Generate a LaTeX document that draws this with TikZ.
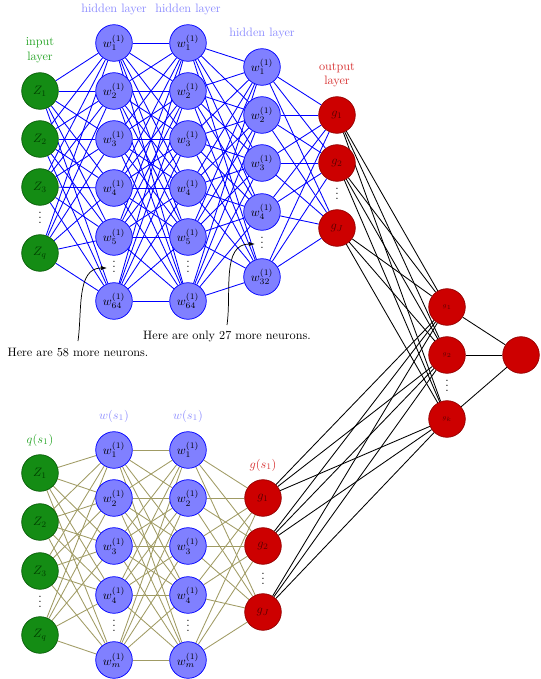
\documentclass[tikz,border=0pt]{standalone}
\usetikzlibrary{arrows.meta}
\pgfdeclarelayer{background}
\pgfsetlayers{background,main}
\definecolor{nodegreen}{RGB}{20,140,20}
\definecolor{nodegreenline}{RGB}{10,95,10}
\definecolor{nodeblue}{RGB}{128,128,255}
\definecolor{nodered}{RGB}{205,0,0}
\definecolor{noderedline}{RGB}{150,0,0}
\definecolor{labgreen}{RGB}{40,165,40}
\definecolor{labblue}{RGB}{140,140,255}
\definecolor{labred}{RGB}{215,50,50}
\definecolor{olivelink}{RGB}{160,155,100}
\newcommand\mydots{\vbox{\baselineskip4pt\lineskiplimit0pt\hbox{.}\hbox{.}\hbox{.}}}
\begin{document}
\begin{tikzpicture}[x=0.82pt,y=-0.82pt,
  neuron/.style={circle,minimum size=30pt,inner sep=0pt,line width=0.6pt},
  inp/.style={neuron,fill=nodegreen,draw=nodegreenline,text=green!25!black},
  hid/.style={neuron,fill=nodeblue,draw=blue},
  outn/.style={neuron,fill=nodered,draw=noderedline,text=red!35!black},
  blink/.style={blue,line width=0.7pt},
  olink/.style={olivelink,line width=0.7pt},
  klink/.style={black,line width=0.7pt},
  vd/.style={inner sep=0pt},
  ann/.style={black,line width=0.6pt,-{Latex[length=5pt,width=3.5pt]}}]
\useasboundingbox (0,0) rectangle (540,679);

% ---------- top network ----------
\foreach \y/\i/\t in {91/1/1,139/2/2,187/3/3,253/4/q}
  \node[inp] (I\i) at (40,\y) {$Z_{\t}$};
\node[vd] (Idots) at (40,218) {\mydots};
\foreach \y/\i/\t in {43/1/1,91/2/2,139/3/3,188/4/4,237/5/5,301/6/64}{
  \node[hid] (A\i) at (114,\y) {$w_{\t}^{(1)}$};
  \node[hid] (B\i) at (188,\y) {$w_{\t}^{(1)}$};
}
\node[vd] (Adots) at (114,267) {\mydots};
\node[vd] (Bdots) at (188,267) {\mydots};
\foreach \y/\i/\t in {67/1/1,115/2/2,163/3/3,212/4/4,277/5/32}
  \node[hid] (C\i) at (262,\y) {$w_{\t}^{(1)}$};
\node[vd] (Cdots) at (262,243) {\mydots};
\foreach \y/\i/\t in {115/1/1,163/2/2,228/3/J}
  \node[outn] (O\i) at (337,\y) {$g_{\t}$};
\node[vd] (Odots) at (337,194) {\mydots};

% right part
\foreach \y/\i/\t in {307/1/1,355/2/2,419/3/k}
  \node[outn] (R\i) at (447,\y) {\tiny$g_{\t}$};
\node[vd] (Rdots) at (447,386) {\mydots};
\node[outn] (F) at (521,355) {};

% labels top
\node[labblue] (lh1) at (114,10) {hidden layer};
\node[labblue] (lh2) at (188,10) {hidden layer};
\node[labblue] (lh3) at (262,34) {hidden layer};
\node[labgreen,align=center] (lin) at (40,50) {input\\layer};
\node[labred,align=center] (lout) at (337,75) {output\\layer};

% ---------- bottom network ----------
\foreach \y/\i/\t in {473/1/1,522/2/2,571/3/3,635/4/q}
  \node[inp] (P\i) at (40,\y) {$Z_{\t}$};
\node[vd] (Pdots) at (40,602) {\mydots};
\foreach \y/\i/\t in {450/1/1,498/2/2,546/3/3,595/4/4,660/5/m}{
  \node[hid] (D\i) at (114,\y) {$w_{\t}^{(1)}$};
  \node[hid] (E\i) at (188,\y) {$w_{\t}^{(1)}$};
}
\node[vd] (Ddots) at (114,626) {\mydots};
\node[vd] (Edots) at (188,626) {\mydots};
\foreach \y/\i/\t in {498/1/1,546/2/2,612/3/J}
  \node[outn] (G\i) at (263,\y) {$g_{\t}$};
\node[vd] (Gdots) at (263,579) {\mydots};

\node[labgreen] (lq) at (40,440) {$q(s_1)$};
\node[labblue] (lw1) at (114,416) {$w(s_1)$};
\node[labblue] (lw2) at (188,416) {$w(s_1)$};
\node[labred] (lg) at (263,465) {$g(s_1)$};

% ---------- annotations ----------
\node (n58) at (78,352) {Here are 58 more neurons.};
\node (n27) at (227,337) {Here are only 27 more neurons.};
\coordinate (s58) at (78,341);
\coordinate (t58) at (107,268);
\coordinate (s27) at (227,325);
\coordinate (t27) at (255,244);
\draw[ann] (s58) to[out=82,in=180] (t58);
\draw[ann] (s27) to[out=82,in=180] (t27);

% ---------- connections ----------
\begin{pgfonlayer}{background}
\foreach \i in {1,...,4} \foreach \j in {1,...,6} \draw[blink] (I\i) -- (A\j);
\foreach \i in {1,...,6} \foreach \j in {1,...,6} \draw[blink] (A\i) -- (B\j);
\foreach \i in {1,...,6} \foreach \j in {1,...,5} \draw[blink] (B\i) -- (C\j);
\foreach \i in {1,...,5} \foreach \j in {1,...,3} \draw[blink] (C\i) -- (O\j);
\foreach \i in {1,...,3} \foreach \j in {1,...,3} \draw[klink] (O\i) -- (R\j);
\foreach \i in {1,...,3} \foreach \j in {1,...,3} \draw[klink] (G\i) -- (R\j);
\foreach \i in {1,...,3} \draw[klink] (R\i) -- (F);
\foreach \i in {1,...,4} \foreach \j in {1,...,5} \draw[olink] (P\i) -- (D\j);
\foreach \i in {1,...,5} \foreach \j in {1,...,5} \draw[olink] (D\i) -- (E\j);
\foreach \i in {1,...,5} \foreach \j in {1,...,3} \draw[olink] (E\i) -- (G\j);
\end{pgfonlayer}
\end{tikzpicture}
\end{document}
